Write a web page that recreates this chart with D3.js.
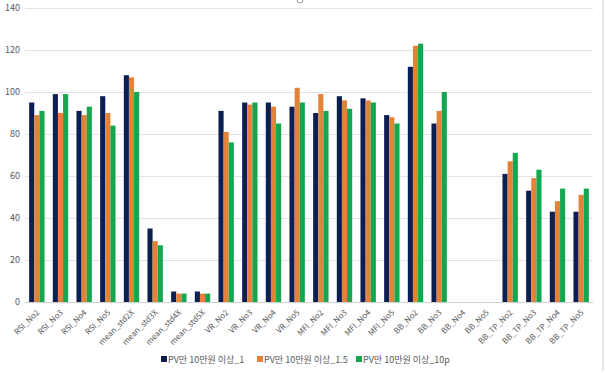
<!DOCTYPE html>
<html>
<head>
<meta charset="utf-8">
<script src="https://cdn.jsdelivr.net/npm/d3@7"></script>
<style>
  body { margin: 0; background: #fff; }
  text { font-family: "Noto Sans CJK KR", "Noto Sans", sans-serif; fill: #595959; }
</style>
</head>
<body>
<div id="chart"></div>
<script>
// categories and series
var categories = ['RSI_No2', 'RSI_No3', 'RSI_No4', 'RSI_No5',
    'mean_std2X', 'mean_std3X', 'mean_std4X', 'mean_std5X',
    'VR_No2', 'VR_No3', 'VR_No4', 'VR_No5',
    'MFI_No2', 'MFI_No3', 'MFI_No4', 'MFI_No5',
    'BB_No2', 'BB_No3', 'BB_No4', 'BB_No5',
    'BB_TP_No2', 'BB_TP_No3', 'BB_TP_No4', 'BB_TP_No5'];

var seriesNames = ['PV만 10만원 이상_1', 'PV만 10만원 이상_1.5', 'PV만 10만원 이상_10p'];

var series1 = [95, 99, 91, 98, 108, 35, 5, 5, 91, 95, 95, 93, 90, 98, 97, 89, 112, 85, 0, 0, 61, 53, 43, 43];
var series15 = [89, 90, 89, 90, 107, 29, 4, 4, 81, 94, 93, 102, 99, 96, 96, 88, 122, 91, 0, 0, 67, 59, 48, 51];
var series10p = [91, 99, 93, 84, 100, 27, 4, 4, 76, 95, 85, 95, 91, 92, 95, 85, 123, 100, 0, 0, 71, 63, 54, 54];

var yTicks = [0, 20, 40, 60, 80, 100, 120, 140];
var colors = ['#0c1f52', '#e5823a', '#14a74f'];

var svgWidth = 605;
var svgHeight = 373;

var margin = { top: 8, right: 12, bottom: 71, left: 25 };
var width = svgWidth - margin.left - margin.right;
var height = svgHeight - margin.top - margin.bottom;

var svg = d3.select('#chart').append('svg')
    .attr('width', svgWidth)
    .attr('height', svgHeight);

// chart frame (right edge and selection handle)
svg.append('line')
    .attr('x1', 603).attr('x2', 603).attr('y1', 0).attr('y2', 371)
    .attr('stroke', '#d0d0d0');
svg.append('circle')
    .attr('cx', 300).attr('cy', 0).attr('r', 3)
    .attr('fill', '#fff').attr('stroke', '#999');

var chartGroup = svg.append('g')
    .attr('transform', `translate(${margin.left}, ${margin.top})`);

var xScale = d3.scaleBand()
    .domain(categories)
    .range([0, width])
    .paddingInner(0.35)
    .paddingOuter(0.175);

var xSub = d3.scaleBand()
    .domain([0, 1, 2])
    .range([0, xScale.bandwidth()]);

var yScale = d3.scaleLinear()
    .domain([0, 140])
    .range([height, 0]);

// gridlines
chartGroup.append('g')
    .selectAll('line')
    .data(yTicks)
    .enter()
    .append('line')
    .attr('x1', 0)
    .attr('x2', width)
    .attr('y1', d => Math.round(yScale(d)) + 0.5)
    .attr('y2', d => Math.round(yScale(d)) + 0.5)
    .attr('stroke', d => d === 0 ? '#d0d0d0' : '#e3e3e3')
    .attr('stroke-width', 1);

// y axis labels
var leftAxis = d3.axisLeft(yScale).tickValues(yTicks).tickSize(0).tickPadding(5);
var yAxis = chartGroup.append('g').call(leftAxis);
yAxis.select('.domain').remove();
yAxis.selectAll('text').attr('font-size', '9px').style('fill', '#595959');

// bars
var allSeries = [series1, series15, series10p];
var groups = chartGroup.selectAll('.group')
    .data(categories)
    .enter()
    .append('g')
    .attr('transform', d => `translate(${xScale(d)}, 0)`);

groups.selectAll('rect')
    .data((d, i) => allSeries.map((s, k) => ({ k: k, v: s[i] })))
    .enter()
    .append('rect')
    .filter(d => d.v > 0)
    .attr('x', d => xSub(d.k))
    .attr('width', xSub.bandwidth())
    .attr('y', d => yScale(d.v))
    .attr('height', d => height - yScale(d.v))
    .attr('fill', d => colors[d.k]);

// x axis labels
var bottomAxis = d3.axisBottom(xScale).tickSize(0).tickPadding(0);
var xAxis = chartGroup.append('g')
    .attr('transform', `translate(0, ${height})`)
    .call(bottomAxis);
xAxis.select('.domain').remove();
xAxis.selectAll('text')
    .attr('font-size', '8px')
    .style('fill', '#595959')
    .style('text-anchor', 'end')
    .attr('dy', '0')
    .attr('transform', 'translate(3, 11) rotate(-45)');

// legend
var legendX = [161, 257, 356];
var legend = svg.append('g');
var items = legend.selectAll('g')
    .data(seriesNames)
    .enter()
    .append('g')
    .attr('transform', (d, i) => `translate(${legendX[i]}, 359)`);

items.append('rect')
    .attr('x', 0)
    .attr('y', -3)
    .attr('width', 6)
    .attr('height', 6)
    .attr('fill', (d, i) => colors[i]);

items.append('text')
    .attr('x', 7)
    .attr('y', 3.5)
    .attr('font-size', '9px')
    .text(d => d);
</script>
</body>
</html>
